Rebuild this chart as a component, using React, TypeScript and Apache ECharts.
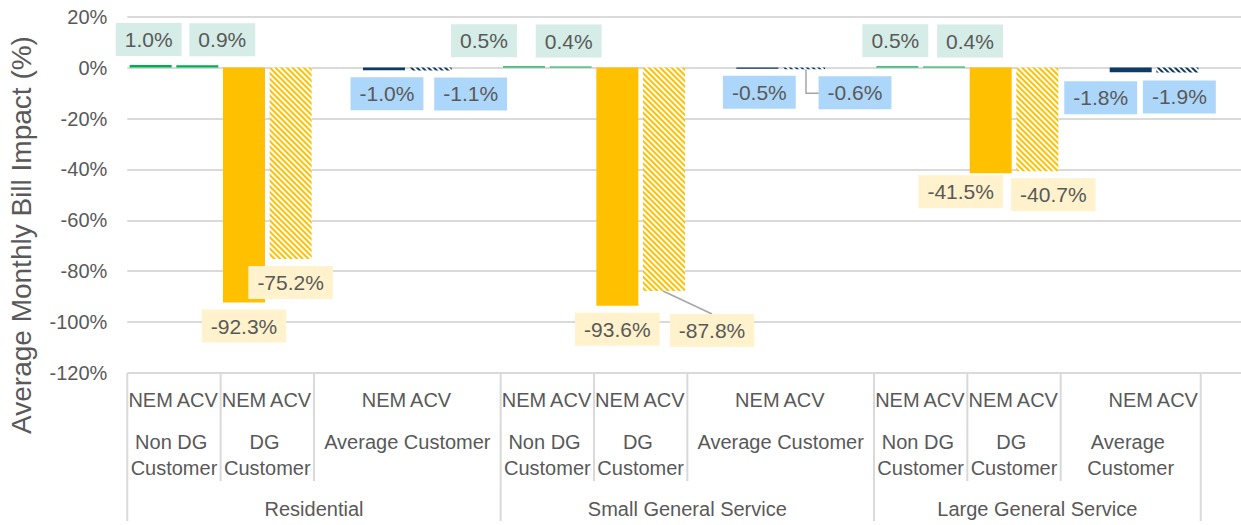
import React, { useEffect, useRef } from 'react';
import * as echarts from 'echarts';

// ---- data ----
const leafLabels = [
  'NEM', 'ACV', 'NEM', 'ACV', '', 'NEM', 'ACV', '',
  'NEM', 'ACV', 'NEM', 'ACV', '', 'NEM', 'ACV', '',
  'NEM', 'ACV', 'NEM', 'ACV', '', 'NEM', 'ACV',
];
const leafKinds = [
  'nondg', 'nondg', 'dg', 'dg', 'avg', 'avg', 'avg', 'avg',
  'nondg', 'nondg', 'dg', 'dg', 'avg', 'avg', 'avg', 'avg',
  'nondg', 'nondg', 'dg', 'dg', 'avg', 'avg', 'avg',
];
const impactValues: (number | null)[] = [
  1.0, 0.9, -92.3, -75.2, null, -1.0, -1.1, null,
  0.5, 0.4, -93.6, -87.8, null, -0.5, -0.6, null,
  0.5, 0.4, -41.5, -40.7, null, -1.8, -1.9,
];
const subGroupNames = [
  'Non DG Customer', 'DG Customer', 'Average Customer',
  'Non DG Customer', 'DG Customer', 'Average Customer',
  'Non DG Customer', 'DG Customer', 'Average Customer',
];
const subGroupSpans = [2, 2, 4, 2, 2, 4, 2, 2, 3];
const groupNames = ['Residential', 'Small General Service', 'Large General Service'];
const groupSpans = [8, 8, 7];
const yMin = -120;
const yMax = 20;
const yStep = 20;

// ---- styling (not data) ----
const labelShift: [number, number][] = [
  [-2, -2], [25, -2], [0, 0], [0, 0], [0, 0], [3, 0], [40, 0], [0, 0],
  [-40, -2], [-2, -2], [0, 0], [48, 16], [0, 0], [2, 0], [51, 0], [0, 0],
  [-2, -2], [26, -2], [-30, -5], [16, 0], [0, 0], [-30, 2], [2, 1],
];
const FONT = "'Liberation Sans', Arial, sans-serif";
const TEXT = '#595959';
const barColor: Record<string, string> = { nondg: '#00B050', dg: '#FFC000', avg: '#0E3A66' };
const labelBg: Record<string, string> = { nondg: '#D5ECE7', dg: '#FFF2CC', avg: '#ADD7FA' };

export default function App() {
  const ref = useRef<HTMLDivElement>(null);
  useEffect(() => {
    if (!ref.current) return;
    const chart = echarts.init(ref.current, null, { renderer: 'svg' });

    const data = impactValues.map((v, i) => {
      if (v == null) return '-';
      const kind = leafKinds[i];
      const isAcv = leafLabels[i] === 'ACV';
      const col = barColor[kind];
      const itemStyle: any = isAcv && kind !== 'nondg'
        ? {
            color: '#FFFFFF',
            decal: {
              symbol: 'rect',
              symbolSize: 1,
              color: col,
              backgroundColor: 'rgba(0,0,0,0)',
              dashArrayX: [1, 0],
              dashArrayY: [1.5, 1.5],
              rotation: Math.PI / 4,
            },
          }
        : { color: col };
      return {
        value: v,
        itemStyle,
        label: {
          position: v >= 0 ? 'top' : 'bottom',
          backgroundColor: labelBg[kind],
          offset: labelShift[i],
        },
      };
    });

    chart.setOption({
      animation: false,
      textStyle: { fontFamily: FONT },
      grid: [
        { left: 127.3, right: 40.3, top: 16.7, bottom: 152, containLabel: false },
        { left: 127.3, right: 0, top: 16.7, bottom: 152, containLabel: false },
      ],
      xAxis: [
        {
          type: 'category',
          gridIndex: 0,
          data: leafLabels,
          axisLine: { show: false },
          axisTick: { show: false },
          axisLabel: { interval: 0, fontSize: 20, color: TEXT, margin: 17, fontFamily: FONT },
        },
        { type: 'value', gridIndex: 1, show: false, min: 0, max: 1 },
      ],
      yAxis: [
        {
          type: 'value',
          gridIndex: 0,
          min: yMin,
          max: yMax,
          interval: yStep,
          axisLine: { show: false },
          axisTick: { show: false },
          splitLine: { show: false },
          axisLabel: { formatter: '{value}%', fontSize: 20, color: TEXT, margin: 20, fontFamily: FONT },
        },
        {
          type: 'value',
          gridIndex: 1,
          min: yMin,
          max: yMax,
          interval: yStep,
          axisLine: { show: false },
          axisTick: { show: false },
          axisLabel: { show: false },
          splitLine: { show: true, lineStyle: { color: '#DADADA', width: 2 } },
        },
      ],
      series: [
        {
          type: 'bar',
          xAxisIndex: 0,
          yAxisIndex: 0,
          barWidth: '90%',
          data,
          label: {
            show: true,
            distance: 7,
            formatter: (p: any) => Number(p.value).toFixed(1) + '%',
            fontSize: 21,
            lineHeight: 21,
            color: TEXT,
            padding: [6, 9],
            fontFamily: FONT,
          },
        },
      ],
    });

    // ---- annotations computed from the axes ----
    const px = (i: number, v: number) => chart.convertToPixel({ gridIndex: 0 }, [i, v]) as number[];
    const c0 = px(0, 0)[0];
    const slot = px(1, 0)[0] - c0;
    const x0 = c0 - slot / 2;
    const axisY = px(0, yMin)[1];
    const fullBottom = axisY + 148;
    const subBottom = axisY + 108;
    const line = (x1: number, y1: number, x2: number, y2: number, color = '#D9D9D9', w = 2) => ({
      type: 'line',
      shape: { x1, y1, x2, y2 },
      style: { stroke: color, lineWidth: w },
      silent: true,
    });
    const els: any[] = [];

    let idx = 0;
    const groupEdges: number[] = [0];
    groupSpans.forEach((s, gi) => {
      const start = idx;
      idx += s;
      groupEdges.push(idx);
      const cx = x0 + ((start + idx) / 2) * slot;
      els.push({
        type: 'text',
        x: cx,
        y: axisY + 136,
        style: { text: groupNames[gi], font: `20px ${FONT}`, fill: TEXT, align: 'center', verticalAlign: 'middle' },
      });
    });
    groupEdges.forEach((e) => els.push(line(x0 + e * slot, axisY, x0 + e * slot, fullBottom)));

    idx = 0;
    subGroupSpans.forEach((s, si) => {
      const start = idx;
      idx += s;
      if (!groupEdges.includes(idx)) els.push(line(x0 + idx * slot, axisY, x0 + idx * slot, subBottom));
      const cx = x0 + ((start + idx) / 2) * slot;
      els.push({
        type: 'text',
        x: cx,
        y: axisY + 56,
        style: {
          text: subGroupNames[si],
          font: `20px ${FONT}`,
          fill: TEXT,
          align: 'center',
          verticalAlign: 'top',
          width: s * slot - 4,
          overflow: 'break',
          lineHeight: 26,
        },
      });
    });

    // leader lines
    const b11 = px(11, impactValues[11] as number);
    els.push({
      type: 'polyline',
      shape: { points: [[b11[0] - 1, b11[1]], [b11[0] + labelShift[11][0], b11[1] + 7 + labelShift[11][1]]] },
      style: { stroke: '#A6A6A6', lineWidth: 1.5, fill: 'none' },
    });
    const b14 = px(14, impactValues[14] as number);
    els.push({
      type: 'polyline',
      shape: { points: [[b14[0] + 2, b14[1]], [b14[0] + 2, b14[1] + 24], [b14[0] + labelShift[14][0] - 36, b14[1] + 24]] },
      style: { stroke: '#A6A6A6', lineWidth: 1.5, fill: 'none' },
    });

    // y axis title
    els.push({
      type: 'text',
      x: 21,
      y: 235,
      rotation: Math.PI / 2,
      style: {
        text: 'Average Monthly Bill Impact (%)',
        font: `28px ${FONT}`,
        fill: TEXT,
        align: 'center',
        verticalAlign: 'middle',
      },
    });

    chart.setOption({ graphic: { elements: els } });

    return () => chart.dispose();
  }, []);

  return (
    <div
      ref={ref}
      style={{ position: 'absolute', left: 0, top: 0, width: 1241, height: 525, background: '#fff' }}
    />
  );
}
